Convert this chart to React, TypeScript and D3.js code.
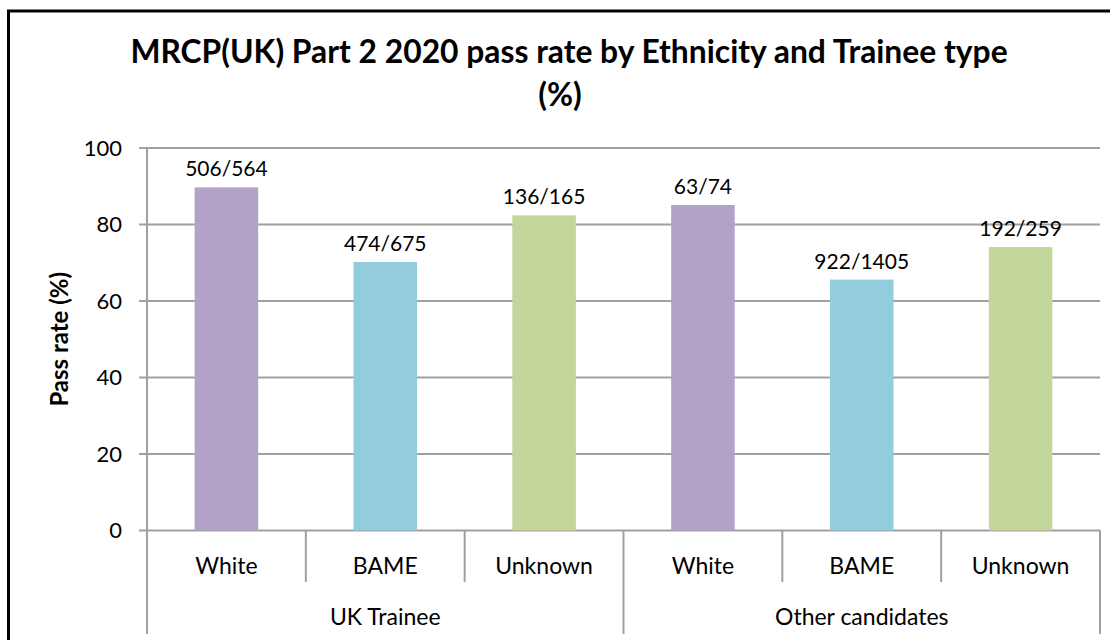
import { FC } from 'react';
import * as d3 from 'd3';

const categories = ['White', 'BAME', 'Unknown', 'White', 'BAME', 'Unknown'];
const groups = ['UK Trainee', 'Other candidates'];
const passRates = [89.7, 70.2, 82.4, 85.1, 65.6, 74.1];
const passLabels = ['506/564', '474/675', '136/165', '63/74', '922/1405', '192/259'];
const barColors = ['#b3a2c7', '#93cddd', '#c3d69b', '#b3a2c7', '#93cddd', '#c3d69b'];
const yTicks = [0, 20, 40, 60, 80, 100];

const W = 1110;
const H = 640;
const FONT = 'Lato, "Open Sans", sans-serif';
const GRID = '#a0a0a0';

const App: FC = () => {
  const left = 147;
  const right = 1100;
  const top = 148;
  const bottom = 530.5;

  const idx = categories.map((_d, i) => String(i));
  const x = d3.scaleBand().domain(idx).range([left, right]).paddingInner(0.6).paddingOuter(0.3);
  const y = d3.scaleLinear().domain([0, 100]).range([bottom, top]);
  const step = x.step();

  return (
    <svg
      width={W}
      height={H}
      style={{ position: 'absolute', left: 0, top: 0, background: '#fff' }}
      fontFamily={FONT}
    >
      {/* borda do gráfico */}
      <rect x={8.5} y={11} width={1200} height={700} fill="none" stroke="#000" strokeWidth={3} />

      <text x={569} y={63} textAnchor="middle" fontSize={31.8} fontWeight="bold" fill="#000">
        MRCP(UK) Part 2 2020 pass rate by Ethnicity and Trainee type
      </text>
      <text x={560} y={106} textAnchor="middle" fontSize={31.8} fontWeight="bold" fill="#000">
        (%)
      </text>

      {/* grade e ticks */}
      {yTicks.map((t) => (
        <g key={t}>
          <line x1={139} x2={right} y1={y(t)} y2={y(t)} stroke={GRID} strokeWidth={2} />
          <text x={122} y={y(t)} dy="0.35em" textAnchor="end" fontSize={22} fill="#000">
            {t}
          </text>
        </g>
      ))}

      <text
        transform={`translate(60,${(top + bottom) / 2}) rotate(-90)`}
        textAnchor="middle"
        dy="0.35em"
        fontSize={24}
        fontWeight="bold"
        fill="#000"
      >
        Pass rate (%)
      </text>

      {/* barras */}
      {passRates.map((v, i) => (
        <rect
          key={i}
          x={x(String(i))!}
          y={y(v)}
          width={x.bandwidth()}
          height={bottom - y(v)}
          fill={barColors[i]}
        />
      ))}
      {passRates.map((v, i) => (
        <text
          key={i}
          x={x(String(i))! + x.bandwidth() / 2}
          y={y(v) - 11}
          textAnchor="middle"
          fontSize={21}
          fill="#000"
        >
          {passLabels[i]}
        </text>
      ))}

      {/* eixos */}
      <line x1={left} x2={left} y1={top} y2={634} stroke={GRID} strokeWidth={2} />
      {categories.map((_c, i) => {
        const bx = left + step * (i + 1);
        const long = (i + 1) % 3 === 0;
        return <line key={i} x1={bx} x2={bx} y1={bottom} y2={long ? 634 : 582} stroke={GRID} strokeWidth={2} />;
      })}
      {categories.map((c, i) => (
        <text
          key={i}
          x={x(String(i))! + x.bandwidth() / 2}
          y={566}
          dy="0.35em"
          textAnchor="middle"
          fontSize={23}
          fill="#000"
        >
          {c}
        </text>
      ))}
      {groups.map((g, gi) => (
        <text
          key={g}
          x={left + step * (gi * 3 + 1.5)}
          y={617}
          dy="0.35em"
          textAnchor="middle"
          fontSize={23}
          fill="#000"
        >
          {g}
        </text>
      ))}
    </svg>
  );
};

export default App;
